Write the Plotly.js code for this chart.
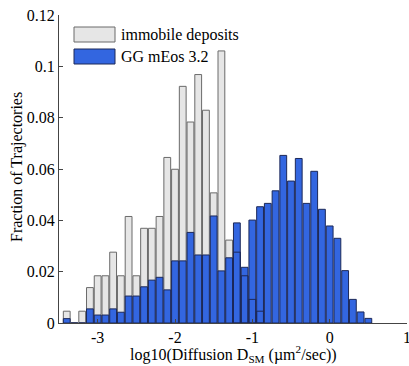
<!DOCTYPE html>
<html><head><meta charset="utf-8">
<script src="https://cdn.plot.ly/plotly-3.0.1.min.js"></script>
<style>html,body{margin:0;padding:0;background:#fff}#chart{width:409px;height:366px}</style>
</head><body><div id="chart"></div>
<script>
// log10(D) bin centres
const binCenters = [-3.4,-3.3,-3.2,-3.1,-3.0,-2.9,-2.8,-2.7,-2.6,-2.5,-2.4,-2.3,-2.2,-2.1,-2.0,
  -1.9,-1.8,-1.7,-1.6,-1.5,-1.4,-1.3,-1.2,-1.1,-1.0,-0.9,-0.8,-0.7,-0.6,-0.5,-0.4,-0.3,-0.2,-0.1,
  0.0,0.1,0.2,0.3,0.4,0.5];
// fraction of trajectories, immobile deposits
const immobile = [0.0046,0,0.0046,0.0138,0.0184,0.0184,0.0276,0.0184,0.0415,0.0184,0.0369,0.0369,0.0415,
  0.0645,0.0599,0.0922,0.0783,0.0968,0.0829,0.0507,0.1060,0.0323,0.0276,0.0184,0.0092,0.0046,
  0,0,0,0,0,0,0,0,0,0,0,0,0,0];
// fraction of trajectories, GG mEos 3.2
const mEos = [0.0017,0,0,0.0055,0.0031,0.0031,0.0055,0.0042,0.0105,0.0105,0.0141,0.0167,0.0178,
  0.0129,0.0242,0.0242,0.0353,0.0265,0.0265,0.0417,0.0203,0.0254,0.0390,0.0217,0.0401,0.0453,
  0.0466,0.0515,0.0653,0.0553,0.0641,0.0466,0.0591,0.0443,0.0378,0.0330,0.0204,0.0092,0.0043,0.0018];
const seriesNames = ['immobile deposits','GG mEos 3.2'];
const xTickVals = [-3,-2,-1,0,1];
const xTickText = ['-3','-2','-1','0','1'];
const yTickVals = [0,0.02,0.04,0.06,0.08,0.1,0.12];
const yTickText = ['0','0.02','0.04','0.06','0.08','0.1','0.12'];
const xTitle = 'log10(Diffusion D<sub>SM</sub> (µm<sup>2</sup>/sec))';
const yTitle = 'Fraction of Trajectories';

const grayFill = '#e6e6e6', grayLine = '#6a6a6a';
const blueFill = '#3366e0', blueLine = '#1c2858';

// tops of immobile bars hidden behind the blue bars (drawn as outline only)
const hiddenTops = immobile.map((g,i)=> (g>0 && g<mEos[i]) ? g : null);

const traces = [
  {type:'bar', x:binCenters, y:immobile, name:seriesNames[0],
   marker:{color:grayFill, line:{color:grayLine, width:1}}},
  {type:'bar', x:binCenters, y:mEos, name:seriesNames[1],
   marker:{color:blueFill, line:{color:blueLine, width:1}}},
  {type:'bar', x:binCenters, y:hiddenTops, showlegend:false, hoverinfo:'skip',
   marker:{color:'rgba(0,0,0,0)', line:{color:blueLine, width:1}}}
];

const font = {family:'Liberation Serif', size:16, color:'#000'};
const layout = {
  width:409, height:366,
  margin:{l:59, r:2, t:15, b:43},
  paper_bgcolor:'#fff', plot_bgcolor:'#fff',
  barmode:'overlay', bargap:0.12,
  showlegend:false,
  font:font,
  xaxis:{range:[-3.5,1], tickvals:xTickVals, ticktext:xTickText, tickfont:font,
    ticklabeloverflow:'allow',
    ticks:'inside', ticklen:4, tickcolor:'#444', showline:true, linecolor:'#444', linewidth:1,
    showgrid:false, zeroline:false},
  yaxis:{range:[0,0.12], tickvals:yTickVals, ticktext:yTickText, tickfont:font,
    ticks:'inside', ticklen:4, tickcolor:'#444', showline:true, linecolor:'#444', linewidth:1,
    showgrid:false, zeroline:false},
  shapes:[
    {type:'rect', xref:'paper', yref:'paper', x0:(74-59)/348, x1:(115-59)/348, y0:(323-42)/308, y1:(323-27)/308,
     fillcolor:grayFill, line:{color:grayLine, width:1}},
    {type:'rect', xref:'paper', yref:'paper', x0:(74-59)/348, x1:(115-59)/348, y0:(323-64)/308, y1:(323-49)/308,
     fillcolor:blueFill, line:{color:blueLine, width:1}}
  ],
  annotations:[
    {xref:'paper', yref:'paper', x:(119-59)/348, y:(323-34.5)/308, xanchor:'left', yanchor:'middle',
     text:seriesNames[0], showarrow:false, font:font},
    {xref:'paper', yref:'paper', x:(119-59)/348, y:(323-56.5)/308, xanchor:'left', yanchor:'middle',
     text:seriesNames[1], showarrow:false, font:font},
    {xref:'paper', yref:'paper', x:0.5, y:(323-354)/308, xanchor:'center', yanchor:'middle',
     text:xTitle, showarrow:false, font:font},
    {xref:'paper', yref:'paper', x:(17-59)/348, y:(323-167)/308, xanchor:'center', yanchor:'middle', textangle:-90,
     text:yTitle, showarrow:false, font:font}
  ]
};
Plotly.newPlot('chart', traces, layout, {displayModeBar:false, staticPlot:true});
</script></body></html>
